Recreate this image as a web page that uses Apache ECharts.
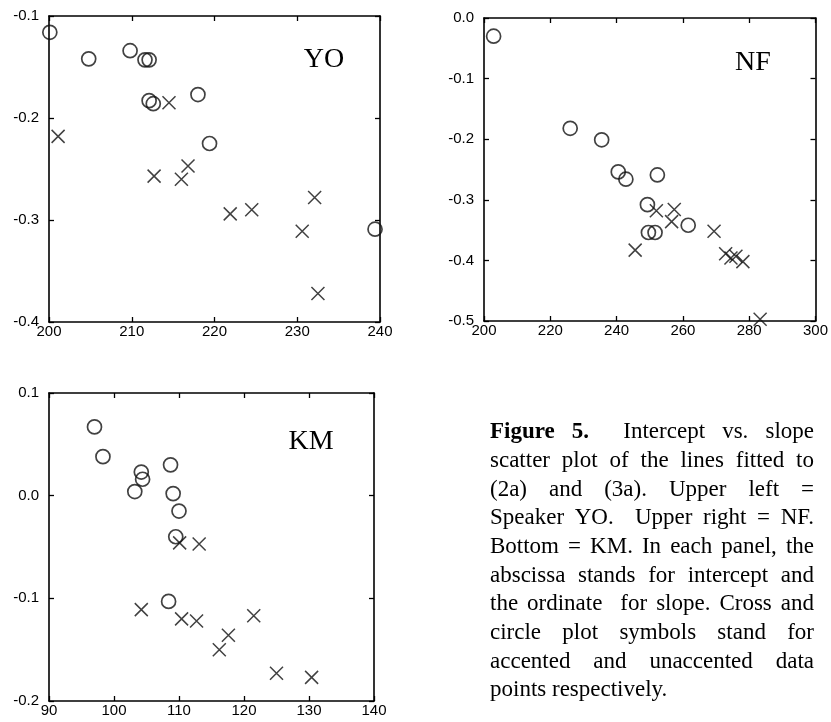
<!DOCTYPE html>
<html>
<head>
<meta charset="utf-8">
<title>Figure 5</title>
<script src="https://cdn.jsdelivr.net/npm/echarts@6/dist/echarts.min.js"></script>
<style>
html, body { margin:0; padding:0; background:#fff; }
#main { width:831px; height:722px; }
</style>
</head>
<body>
<div id="main"></div>
<script>
// speaker YO : intercept (x) vs slope (y)
var yoCircleX = [200.1, 204.8, 209.8, 211.6, 212.1, 212.1, 212.6, 218.0, 219.4, 239.4];
var yoCircleY = [-0.116, -0.142, -0.134, -0.143, -0.143, -0.183, -0.186, -0.177, -0.225, -0.309];
var yoCrossX = [201.1, 214.5, 212.7, 216.0, 216.8, 221.9, 224.5, 230.6, 232.1, 232.5];
var yoCrossY = [-0.218, -0.185, -0.257, -0.260, -0.247, -0.294, -0.290, -0.311, -0.278, -0.372];

// speaker NF
var nfCircleX = [202.9, 226.0, 235.5, 240.5, 242.8, 252.3, 249.3, 249.6, 251.6, 261.6];
var nfCircleY = [-0.030, -0.182, -0.201, -0.254, -0.266, -0.259, -0.308, -0.354, -0.354, -0.342];
var nfCrossX = [245.6, 252.0, 257.4, 256.6, 269.4, 272.9, 274.5, 276.0, 278.1, 283.3];
var nfCrossY = [-0.383, -0.318, -0.316, -0.336, -0.352, -0.389, -0.396, -0.393, -0.402, -0.497];

// speaker KM
var kmCircleX = [97.0, 98.3, 104.2, 104.4, 103.2, 108.7, 109.1, 110.0, 109.5, 108.4];
var kmCircleY = [0.067, 0.038, 0.023, 0.016, 0.004, 0.030, 0.002, -0.015, -0.040, -0.103];
var kmCrossX = [104.2, 110.1, 113.1, 110.4, 112.7, 117.6, 116.2, 121.5, 125.0, 130.4];
var kmCrossY = [-0.111, -0.046, -0.047, -0.120, -0.122, -0.136, -0.150, -0.117, -0.173, -0.177];

// axis ranges [min, max, interval]
var yoXRange = [200, 240, 10];
var yoYRange = [-0.4, -0.1, 0.1];
var nfXRange = [200, 300, 20];
var nfYRange = [-0.5, 0.0, 0.1];
var kmXRange = [90, 140, 10];
var kmYRange = [-0.2, 0.1, 0.1];

var panelNames = ['YO', 'NF', 'KM'];

var captionLines = [
  'Figure 5.  Intercept vs. slope',
  'scatter plot of the lines fitted to',
  '(2a) and (3a). Upper left =',
  'Speaker YO.  Upper right = NF.',
  'Bottom = KM. In each panel, the',
  'abscissa stands for intercept and',
  'the ordinate  for slope. Cross and',
  'circle plot symbols stand for',
  'accented and unaccented data',
  'points respectively.'
];

function pairs(xs, ys) {
  return xs.map(function (x, i) { return [x, ys[i]]; });
}

var chart = echarts.init(document.getElementById('main'));

var grids = [
  { left: 49, top: 16, width: 331, height: 306 },
  { left: 484, top: 18, width: 333, height: 303 },
  { left: 49, top: 393, width: 325, height: 308 }
];

var labelFont = { color: '#000', fontFamily: 'Liberation Sans', fontSize: 15 };

function xAxis(g, r, pos) {
  return {
    type: 'value', gridIndex: g, position: pos,
    min: r[0], max: r[1], interval: r[2],
    axisLine: { onZero: false, lineStyle: { color: '#000', width: 1.6 } },
    axisTick: { inside: true, length: 5, lineStyle: { color: '#000', width: 1.3 } },
    axisLabel: Object.assign({ show: pos === 'bottom', margin: 2,
      formatter: function (v) { return String(Math.round(v)); } }, labelFont),
    splitLine: { show: false }
  };
}
function yAxis(g, r, pos) {
  return {
    type: 'value', gridIndex: g, position: pos,
    min: r[0], max: r[1], interval: r[2],
    axisLine: { onZero: false, lineStyle: { color: '#000', width: 1.6 } },
    axisTick: { inside: true, length: 5, lineStyle: { color: '#000', width: 1.3 } },
    axisLabel: Object.assign({ show: pos === 'left', margin: 10,
      formatter: function (v) { return (Math.abs(v) < 1e-9 ? 0 : v).toFixed(1); } }, labelFont),
    splitLine: { show: false }
  };
}

var xRanges = [yoXRange, nfXRange, kmXRange];
var yRanges = [yoYRange, nfYRange, kmYRange];
var xAxes = [], yAxes = [];
for (var g = 0; g < 3; g++) {
  xAxes.push(xAxis(g, xRanges[g], 'bottom'));
  yAxes.push(yAxis(g, yRanges[g], 'left'));
}
for (var g2 = 0; g2 < 3; g2++) {
  xAxes.push(xAxis(g2, xRanges[g2], 'top'));
  yAxes.push(yAxis(g2, yRanges[g2], 'right'));
}

var circleStyle = { color: 'rgba(0,0,0,0)', borderColor: '#111', borderWidth: 1.7 };
var crossStyle = { color: 'rgba(0,0,0,0)', borderColor: '#111', borderWidth: 1.5 };
var crossPath = 'path://M0,0L10,10M0,10L10,0';

function circles(g, data) {
  return { type: 'scatter', xAxisIndex: g, yAxisIndex: g, data: data,
    symbol: 'circle', symbolSize: 14, itemStyle: circleStyle, silent: true };
}
function crosses(g, data) {
  return { type: 'scatter', xAxisIndex: g, yAxisIndex: g, data: data,
    symbol: crossPath, symbolSize: 13, itemStyle: crossStyle, silent: true };
}

var series = [
  circles(0, pairs(yoCircleX, yoCircleY)), crosses(0, pairs(yoCrossX, yoCrossY)),
  circles(1, pairs(nfCircleX, nfCircleY)), crosses(1, pairs(nfCrossX, nfCrossY)),
  circles(2, pairs(kmCircleX, kmCircleY)), crosses(2, pairs(kmCrossX, kmCrossY))
];

// panel names and the justified caption
var graphics = [];
var namePos = [[324, 60], [753, 63], [311, 442]];
panelNames.forEach(function (n, i) {
  graphics.push({ type: 'text', x: namePos[i][0], y: namePos[i][1],
    style: { text: n, font: '28px "Liberation Serif"', fill: '#000',
      textAlign: 'center', textVerticalAlign: 'middle' } });
});

var ctx = document.createElement('canvas').getContext('2d');
var capLeft = 490, capRight = 814, capBase = 439, capStep = 28.7, capSize = 23;
captionLines.forEach(function (line, li) {
  var words = line.split(' ');
  var fonts = words.map(function (w, wi) {
    return (li === 0 && wi < 2 ? 'bold ' : '') + capSize + 'px "Liberation Serif"';
  });
  var widths = words.map(function (w, wi) { ctx.font = fonts[wi]; return ctx.measureText(w).width; });
  var total = widths.reduce(function (a, b) { return a + b; }, 0);
  var last = li === captionLines.length - 1;
  var gap = last ? capSize * 0.25 : (capRight - capLeft - total) / (words.length - 1);
  var x = capLeft;
  var y = capBase + li * capStep - capSize * 0.3;
  words.forEach(function (w, wi) {
    if (w) {
      graphics.push({ type: 'text', x: x, y: y,
        style: { text: w, font: fonts[wi], fill: '#000', textAlign: 'left', textVerticalAlign: 'middle' } });
    }
    x += widths[wi] + gap;
  });
});

chart.setOption({
  backgroundColor: '#fff',
  animation: false,
  grid: grids,
  xAxis: xAxes,
  yAxis: yAxes,
  series: series,
  graphic: graphics
});
</script>
</body>
</html>
